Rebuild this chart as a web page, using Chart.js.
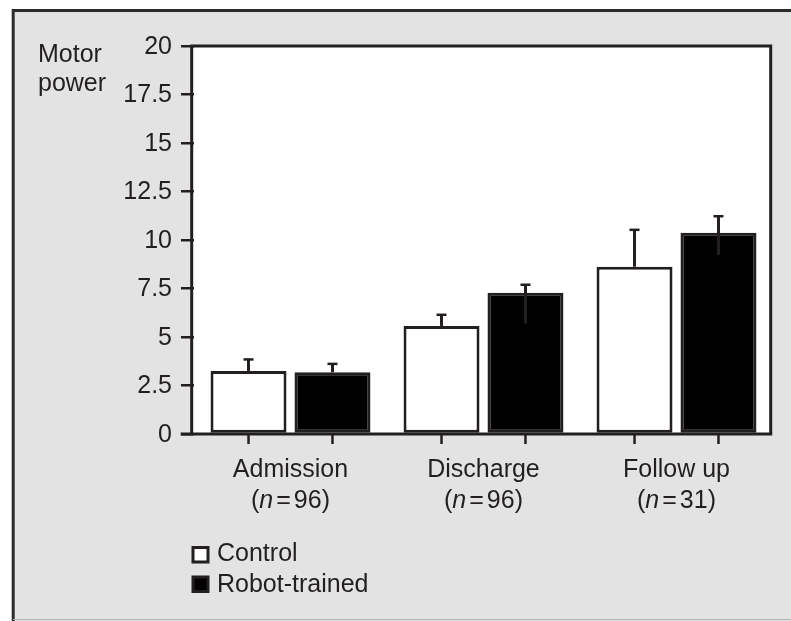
<!DOCTYPE html>
<html>
<head>
<meta charset="utf-8">
<script src="https://cdn.jsdelivr.net/npm/chart.js@4.4.1/dist/chart.umd.min.js"></script>
<style>
  html, body { margin: 0; padding: 0; background: #ffffff; }
  #wrap { width: 791px; height: 621px; }
</style>
</head>
<body>
<div id="wrap"><canvas id="c" width="791" height="621"></canvas></div>
<script>
// ---- data ----
const categories = ["Admission", "Discharge", "Follow up"];
const sampleSizes = ["96", "96", "31"];
const seriesNames = ["Control", "Robot-trained"];
const controlValues = [3.25, 5.57, 8.62];
const controlErrHigh = [3.87, 6.17, 10.55];
const controlErrLow = [3.25, 5.57, 8.62];
const robotValues = [3.18, 7.28, 10.38];
const robotErrHigh = [3.64, 7.72, 11.25];
const robotErrLow = [3.18, 5.70, 9.23];
const yTickValues = [0, 2.5, 5, 7.5, 10, 12.5, 15, 17.5, 20];
const yTickLabels = ["0", "2.5", "5", "7.5", "10", "12.5", "15", "17.5", "20"];
const yTitleLines = ["Motor", "power"];

const INK = "#231f20";
const FAMILY = "'Liberation Sans', Arial, Helvetica, sans-serif";
const FONT = "25px " + FAMILY;
const FONT_IT = "italic 25px " + FAMILY;
const FRAME_LEFT = 191.7;
const FRAME_RIGHT = 770.7;

const errHigh = [controlErrHigh, robotErrHigh];
const errLow = [controlErrLow, robotErrLow];

const decorPlugin = {
  id: "decor",
  beforeDraw(chart) {
    const ctx = chart.ctx;
    const W = chart.width, H = chart.height;
    const a = chart.chartArea;
    ctx.save();
    ctx.fillStyle = "#ffffff";
    ctx.fillRect(0, 0, W, H);
    ctx.fillStyle = "#e3e3e3";
    ctx.fillRect(13, 10, W - 13, H - 10);
    ctx.strokeStyle = "#2b2b2b";
    ctx.lineWidth = 3;
    ctx.beginPath();
    ctx.moveTo(13.2, H);
    ctx.lineTo(13.2, 10.5);
    ctx.lineTo(W, 10.5);
    ctx.stroke();
    ctx.strokeStyle = "#b4b4b4";
    ctx.lineWidth = 1;
    ctx.beginPath();
    ctx.moveTo(13, H - 1.5);
    ctx.lineTo(W, H - 1.5);
    ctx.stroke();
    ctx.fillStyle = "#ffffff";
    ctx.fillRect(FRAME_LEFT, a.top, FRAME_RIGHT - FRAME_LEFT, a.bottom - a.top);
    ctx.restore();
  },
  afterDatasetsDraw(chart) {
    const ctx = chart.ctx;
    const a = chart.chartArea;
    const ys = chart.scales.y;
    ctx.save();
    // error bars
    ctx.strokeStyle = INK;
    for (let d = 0; d < 2; d++) {
      const meta = chart.getDatasetMeta(d);
      meta.data.forEach((el, j) => {
        const x = el.x;
        const yh = ys.getPixelForValue(errHigh[d][j]);
        const yl = ys.getPixelForValue(errLow[d][j]);
        ctx.lineWidth = 3;
        ctx.beginPath();
        ctx.moveTo(x, yl);
        ctx.lineTo(x, yh);
        ctx.stroke();
        ctx.lineWidth = 2.5;
        ctx.beginPath();
        ctx.moveTo(x - 5, yh + 0.5);
        ctx.lineTo(x + 5, yh + 0.5);
        ctx.stroke();
      });
    }
    // frame
    ctx.lineWidth = 3;
    ctx.strokeStyle = INK;
    ctx.beginPath();
    ctx.moveTo(FRAME_LEFT, a.bottom);
    ctx.lineTo(FRAME_LEFT, a.top);
    ctx.lineTo(FRAME_RIGHT, a.top);
    ctx.lineTo(FRAME_RIGHT, a.bottom);
    ctx.stroke();
    ctx.beginPath();
    ctx.moveTo(FRAME_LEFT - 11, a.bottom);
    ctx.lineTo(FRAME_RIGHT + 1.5, a.bottom);
    ctx.stroke();
    // x tick marks under each bar
    ctx.lineWidth = 2.5;
    for (let d = 0; d < 2; d++) {
      chart.getDatasetMeta(d).data.forEach(el => {
        ctx.beginPath();
        ctx.moveTo(el.x, a.bottom);
        ctx.lineTo(el.x, a.bottom + 10);
        ctx.stroke();
      });
    }
    // category labels
    ctx.fillStyle = INK;
    ctx.textBaseline = "alphabetic";
    const m0 = chart.getDatasetMeta(0).data, m1 = chart.getDatasetMeta(1).data;
    categories.forEach((cat, j) => {
      const cx = (m0[j].x + m1[j].x) / 2;
      ctx.font = FONT;
      ctx.textAlign = "center";
      ctx.fillText(cat, cx, 477);
      const parts = [
        { t: "(", f: FONT, g: 0 },
        { t: "n", f: FONT_IT, g: 3 },
        { t: "=", f: FONT, g: 3 },
        { t: sampleSizes[j] + ")", f: FONT, g: 0 }
      ];
      let total = 0;
      parts.forEach(p => { ctx.font = p.f; p.w = ctx.measureText(p.t).width; total += p.w + p.g; });
      let x = cx - total / 2;
      ctx.textAlign = "left";
      parts.forEach(p => { ctx.font = p.f; ctx.fillText(p.t, x, 508); x += p.w + p.g; });
    });
    // y title
    ctx.font = FONT;
    ctx.textAlign = "left";
    ctx.fillText(yTitleLines[0], 38, 62);
    ctx.fillText(yTitleLines[1], 38, 90.5);
    // legend
    const fills = ["#ffffff", "#000000"];
    const rows = [{ y: 547.5, ty: 561 }, { y: 577, ty: 591.5 }];
    seriesNames.forEach((name, i) => {
      ctx.fillStyle = fills[i];
      ctx.fillRect(193, rows[i].y, 15, 14.5);
      ctx.strokeStyle = INK;
      ctx.lineWidth = 3;
      ctx.strokeRect(193, rows[i].y, 15, 14.5);
      ctx.fillStyle = INK;
      ctx.fillText(name, 217, rows[i].ty);
    });
    ctx.restore();
  }
};

new Chart(document.getElementById("c"), {
  type: "bar",
  data: {
    labels: categories,
    datasets: [
      {
        label: seriesNames[0],
        data: controlValues,
        backgroundColor: "#ffffff",
        borderColor: INK,
        borderWidth: 3,
        borderSkipped: false,
        categoryPercentage: 0.87,
        barPercentage: 0.905
      },
      {
        label: seriesNames[1],
        data: robotValues,
        backgroundColor: "#000000",
        borderColor: INK,
        borderWidth: 3,
        borderSkipped: false,
        categoryPercentage: 0.87,
        barPercentage: 0.905
      }
    ]
  },
  options: {
    responsive: false,
    animation: false,
    devicePixelRatio: 1,
    layout: { padding: { left: 0, right: 18, top: 46, bottom: 0 } },
    plugins: { legend: { display: false }, tooltip: { enabled: false }, title: { display: false } },
    scales: {
      x: {
        ticks: { display: false },
        grid: { display: false },
        border: { display: false },
        afterFit(scale) { scale.height = 187; }
      },
      y: {
        min: 0,
        max: 20,
        afterBuildTicks(scale) { scale.ticks = yTickValues.map(v => ({ value: v })); },
        ticks: {
          padding: 9,
          color: INK,
          labelOffset: 1,
          font: { family: FAMILY, size: 25 },
          callback: (v) => yTickLabels[yTickValues.indexOf(v)]
        },
        grid: { display: true, drawOnChartArea: false, drawTicks: true, tickLength: 13, lineWidth: 2.5, color: INK },
        border: { display: false },
        afterFit(scale) { scale.width = 194; }
      }
    }
  },
  plugins: [decorPlugin]
});
</script>
</body>
</html>
